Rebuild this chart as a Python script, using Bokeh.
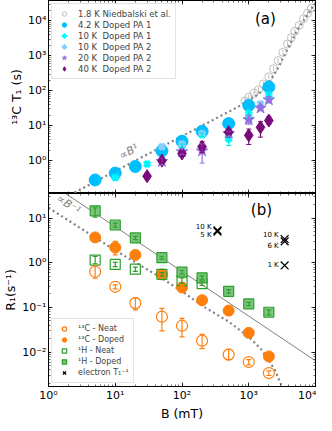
from bokeh.plotting import figure
from bokeh.layouts import column
from bokeh.models import (Range1d, LogAxis, LogTicker, CustomJSTickFormatter, Legend,
                          LegendItem, Whisker, TeeHead, ColumnDataSource, Label)
from bokeh.embed import file_html
from bokeh.resources import INLINE
from bokeh.core.properties import value

# ---------------- panel (a): 13C T1 (s) ----------------
nied_B = [880, 1000, 1200, 1400, 1660, 2000, 2350, 2750, 3250, 3800, 4350, 4900, 5700, 6600, 7600, 8700]
nied_T = [50, 66, 85, 106, 155, 250, 425, 730, 1250, 2150, 3300, 5000, 7400, 11400, 16500, 23000]

k42_B = [5, 10, 20, 50, 100, 200, 500, 1000, 2000]
k42_T = [0.28, 0.44, 0.68, 1.9, 3.6, 6.9, 11.5, 38, 128]

k10a_B = [10, 30, 100, 200, 500, 1000, 2000]
k10a_T = [0.33, 0.8, 2.7, 5.5, 4.2, 22, 75]
k10a_lo = [0.28, 0.7, 2.4, 4.9, 2.7, 17, 62]
k10a_hi = [0.38, 0.9, 3.0, 6.1, 5.5, 28, 88]

k10b_B = [50, 100, 200, 500, 1000, 1500]
k10b_T = [2.5, 3.0, 6.0, 5.5, 16, 42]

k20_B = [50, 100, 200, 500, 1000, 1500, 2000]
k20_T = [0.95, 1.8, 1.9, 6.0, 15, 32, 55]
k20_lo = [0.75, 1.5, 0.85, 5.0, 11, 27, 45]
k20_hi = [1.2, 2.2, 3.0, 7.0, 20, 38, 68]

k40_B = [30, 50, 100, 200, 500, 1000, 1500, 2000]
k40_T = [0.36, 1.0, 1.6, 2.5, 6.5, 5.3, 9.0, 14]
k40_lo = [0.3, 0.85, 1.35, 1.7, 5.5, 2.9, 4.7, 11]
k40_hi = [0.42, 1.2, 1.9, 3.5, 7.5, 8.0, 13, 18]

fitA_B = [2.1, 100, 700, 1400, 2000, 2800, 3900, 5400, 7600, 10000]
fitA_T = [0.105, 5, 35, 80, 165, 480, 1700, 5600, 14700, 32000]

# ---------------- panel (b): R1 (1/s) ----------------
fields = [5, 10, 20, 50, 100, 200, 500, 1000, 2000]
c13_neat = [0.63, 0.29, 0.125, 0.062, 0.039, 0.018, 0.0088, 0.006, 0.0034]
c13_neat_lo = [0.45, 0.26, 0.088, 0.03, 0.022, 0.012, 0.0068, 0.0052, 0.0030]
c13_neat_hi = [0.85, 0.32, 0.165, 0.095, 0.057, 0.025, 0.0115, 0.0068, 0.0038]
c13_doped = [3.7, 2.2, 1.5, 0.55, 0.28, 0.145, 0.085, 0.027, 0.008]
c13_doped_lo = [3.0, 1.5, 1.35, 0.48, 0.25, 0.13, 0.066, 0.025, 0.0075]
c13_doped_hi = [4.5, 3.0, 1.65, 0.62, 0.31, 0.16, 0.1, 0.029, 0.0085]
h1_neat_B = [5, 10, 20, 50, 100, 200]
h1_neat = [1.15, 0.92, 0.72, 0.55, 0.40, 0.34]
h1_neat_lo = [0.95, 0.82, 0.64, 0.5, 0.35, 0.31]
h1_neat_hi = [1.38, 1.02, 0.8, 0.6, 0.46, 0.37]
h1_doped = [14.5, 7.0, 3.6, 1.3, 0.62, 0.46, 0.23, 0.12, 0.078]
h1_doped_lo = [10.5, 6.3, 3.3, 1.2, 0.56, 0.41, 0.21, 0.11, 0.068]
h1_doped_hi = [17, 7.7, 3.9, 1.4, 0.68, 0.51, 0.25, 0.13, 0.088]

elec_B = [340, 340, 3450, 3450, 3450]
elec_R = [5.3, 5.0, 3.4, 3.0, 0.87]
elec_lab = ["10 K", "5 K", "10 K", "6 K", "1 K"]

lineB_B = [1.8, 10000]
lineB_R = [35.5, 0.0064]
fitB_B = [1.0, 10, 50, 100, 200, 500, 1000, 1500, 2000, 2500, 3200]
fitB_R = [17, 1.9, 0.45, 0.23, 0.11, 0.048, 0.022, 0.012, 0.0065, 0.0038, 0.0016]

x_ticks_range = (1, 1e4)
ya_range = (0.115, 3.8e4)
yb_range = (0.0017, 35.5)

FONT = "DejaVu Sans"
ORANGE = "#ff7f0e"
GREEN = "#2ca02c"
GREENF = "#6fbf6f"

fmt = CustomJSTickFormatter(code="""
const e = Math.round(Math.log10(tick));
const m = {'-':'\u207b','0':'\u2070','1':'\u00b9','2':'\u00b2','3':'\u00b3','4':'\u2074','5':'\u2075','6':'\u2076','7':'\u2077','8':'\u2078','9':'\u2079'};
return '10' + String(e).split('').map(c => m[c]).join('');
""")
blank = CustomJSTickFormatter(code="return ' ';")


def style_axis(ax, labels):
    ax.ticker = LogTicker(num_minor_ticks=10)
    ax.major_tick_in = 4
    ax.major_tick_out = 0
    ax.minor_tick_in = 2
    ax.minor_tick_out = 0
    ax.axis_line_color = "black"
    ax.major_tick_line_color = "black"
    ax.minor_tick_line_color = "black"
    ax.major_tick_line_width = 0.8
    ax.minor_tick_line_width = 0.6
    if labels:
        ax.formatter = fmt
        ax.major_label_text_font = FONT
        ax.major_label_text_font_size = "11px"
        ax.major_label_text_color = "black"
        ax.major_label_standoff = 2
        ax.axis_label_text_font = FONT
        ax.axis_label_text_font_size = "12.5px"
        ax.axis_label_text_font_style = "normal"
        ax.axis_label_text_color = "black"
        ax.axis_label_standoff = 1
    else:
        ax.formatter = blank
        ax.major_label_text_font_size = "1px"
        ax.major_label_text_alpha = 0
        ax.major_label_standoff = 0


xr = Range1d(*x_ticks_range)


def make_fig(height, yr, top_border, bottom_border):
    p = figure(width=316, height=height, x_axis_type="log", y_axis_type="log",
               x_range=xr, y_range=Range1d(*yr), x_axis_location=None,
               output_backend="svg", toolbar_location=None,
               min_border_left=41, min_border_right=1,
               min_border_top=top_border, min_border_bottom=bottom_border)
    p.grid.visible = False
    p.outline_line_color = "black"
    p.outline_line_width = 1
    p.background_fill_color = "white"
    p.border_fill_color = "white"
    return p


# ================= panel (a) =================
pa = make_fig(193, ya_range, 0, 0)
style_axis(pa.yaxis[0], True)
pa.yaxis[0].axis_label = "\u00b9\u00b3C T\u2081 (s)"
for loc in ("right", "above", "below"):
    ax = LogAxis()
    style_axis(ax, False)
    pa.add_layout(ax, loc)

# Niedbalski (open grey circles with small bars)
pa.segment(x0=nied_B, x1=nied_B, y0=[t * 0.85 for t in nied_T], y1=[t * 1.18 for t in nied_T],
           line_color="#b0b0b0", line_width=0.8)
r_nied = pa.scatter(nied_B, nied_T, marker="circle", size=8, fill_color=None,
                    line_color="#b0b0b0", line_width=0.8)
r_fitA = pa.line(fitA_B, fitA_T, line_color="gray", line_width=2.2, line_dash="2 3")

r_42 = pa.scatter(k42_B, k42_T, marker="circle", size=12, fill_color="#00bfff",
                  line_color="#00bfff")

wa = Whisker(source=ColumnDataSource(dict(x=k10a_B, lo=k10a_lo, hi=k10a_hi)), base="x",
             lower="lo", upper="hi", line_color="#00e5ee", line_width=1.2, level="glyph",
             lower_head=TeeHead(size=5, line_color="#00e5ee"),
             upper_head=TeeHead(size=5, line_color="#00e5ee"))
pa.add_layout(wa)
r_10a = pa.scatter(k10a_B, k10a_T, marker="x", size=8, line_color="#00ffff", line_width=4)
r_10b = pa.scatter(k10b_B, k10b_T, marker="x", size=8, line_color="#87cefa", line_width=4)

w20 = Whisker(source=ColumnDataSource(dict(x=k20_B, lo=k20_lo, hi=k20_hi)), base="x",
              lower="lo", upper="hi", line_color="#9370db", line_width=1.2, level="glyph",
              lower_head=TeeHead(size=5, line_color="#9370db"),
              upper_head=TeeHead(size=5, line_color="#9370db"))
pa.add_layout(w20)
r_20 = pa.scatter(k20_B, k20_T, marker="star", size=12, fill_color="#9370db",
                  line_color="#9370db")

w40 = Whisker(source=ColumnDataSource(dict(x=k40_B, lo=k40_lo, hi=k40_hi)), base="x",
              lower="lo", upper="hi", line_color="#7a0a7a", line_width=1.2, level="glyph",
              lower_head=TeeHead(size=5, line_color="#7a0a7a"),
              upper_head=TeeHead(size=5, line_color="#7a0a7a"))
pa.add_layout(w40)
r_40 = pa.scatter(k40_B, k40_T, marker="diamond", size=13, fill_color="#7a0a7a",
                  line_color="#7a0a7a")

leg_a = Legend(items=[
    LegendItem(label="1.8 K Niedbalski et al.", renderers=[r_nied]),
    LegendItem(label="4.2 K Doped PA 1", renderers=[r_42]),
    LegendItem(label="10 K  Doped PA 1", renderers=[r_10a]),
    LegendItem(label="10 K  Doped PA 2", renderers=[r_10b]),
    LegendItem(label="20 K  Doped PA 2", renderers=[r_20]),
    LegendItem(label="40 K  Doped PA 2", renderers=[r_40]),
], location="top_left")

pa.add_layout(Label(x=16, y=1.8, text="\u221dB\u00b9", text_color="gray", text_font=FONT,
                    text_font_size="11px", text_font_style="italic", angle=0.48,
                    text_align="center", text_baseline="middle"))
pa.add_layout(Label(x=1780, y=11000, text="(a)",
                    text_font=FONT, text_font_size="15px", text_align="center",
                    text_baseline="middle", text_color="black"))

# ================= panel (b) =================
pb = make_fig(230, yb_range, 0, 26)
style_axis(pb.yaxis[0], True)
pb.yaxis[0].axis_label = "R\u2081(s\u207b\u00b9)"
bx = LogAxis(axis_label="B (mT)")
style_axis(bx, True)
pb.add_layout(bx, "below")
for loc in ("right", "above"):
    ax = LogAxis()
    style_axis(ax, False)
    pb.add_layout(ax, loc)

pb.line(lineB_B, lineB_R, line_color="gray", line_width=1)
pb.line(fitB_B, fitB_R, line_color="gray", line_width=2.2, line_dash="2 3")


def whisk(p, xs, lo, hi, color):
    w = Whisker(source=ColumnDataSource(dict(x=xs, lo=lo, hi=hi)), base="x", lower="lo",
                upper="hi", line_color=color, line_width=1.2, level="glyph",
                lower_head=TeeHead(size=5, line_color=color, line_width=1.2),
                upper_head=TeeHead(size=5, line_color=color, line_width=1.2))
    p.add_layout(w)


whisk(pb, fields, c13_neat_lo, c13_neat_hi, ORANGE)
r_cn = pb.scatter(fields, c13_neat, marker="circle", size=11, fill_color=None,
                  line_color=ORANGE, line_width=1.2)
whisk(pb, fields, c13_doped_lo, c13_doped_hi, ORANGE)
r_cd = pb.scatter(fields, c13_doped, marker="circle", size=11, fill_color=ORANGE,
                  line_color=ORANGE)
whisk(pb, h1_neat_B, h1_neat_lo, h1_neat_hi, GREEN)
r_hn = pb.scatter(h1_neat_B, h1_neat, marker="square", size=10, fill_color=None,
                  line_color=GREEN, line_width=1.2)
whisk(pb, fields, h1_doped_lo, h1_doped_hi, GREEN)
r_hd = pb.scatter(fields, h1_doped, marker="square", size=10, fill_color=GREENF,
                  line_color=GREEN, line_width=1.2, fill_alpha=0.9)
r_e = pb.scatter(elec_B, elec_R, marker="x", size=11, line_color="black", line_width=1.3)
label_dy = [-3.5, 3.5, -4.5, 4.5, 0]
pb.text(x=elec_B, y=elec_R, text=elec_lab, x_offset=-6,
        y_offset=label_dy, text_align="right", text_baseline="middle",
        text_font=value(FONT), text_font_size="7px", text_color="black")

leg_b = Legend(items=[
    LegendItem(label="\u00b9\u00b3C - Neat", renderers=[r_cn]),
    LegendItem(label="\u00b9\u00b3C - Doped", renderers=[r_cd]),
    LegendItem(label="\u00b9H - Neat", renderers=[r_hn]),
    LegendItem(label="\u00b9H - Doped", renderers=[r_hd]),
    LegendItem(label="electron T\u2081\u207b\u00b9", renderers=[r_e]),
], location="bottom_left")

for lg, fs in ((leg_a, "8.5px"), (leg_b, "8px")):
    lg.label_text_font = FONT
    lg.label_text_font_size = fs
    lg.label_height = 10
    lg.glyph_height = 11
    lg.glyph_width = 16
    lg.spacing = 0
    lg.padding = 4
    lg.margin = 3
    lg.label_standoff = 6
    lg.border_line_color = "#cccccc"
    lg.border_line_width = 1
    lg.background_fill_alpha = 0.85

pa.add_layout(leg_a)
pb.add_layout(leg_b)

pb.add_layout(Label(x=2.0, y=20, text="\u221dB\u207b\u00b9", text_color="gray", text_font=FONT,
                    text_font_size="11px", text_font_style="italic", angle=-0.6,
                    text_align="center", text_baseline="middle"))
pb.add_layout(Label(x=1550, y=15, text="(b)",
                    text_font=FONT, text_font_size="15px", text_align="center",
                    text_baseline="middle", text_color="black"))

layout = column(pa, pb, spacing=0)
open("out.html", "w").write(file_html(layout, INLINE))
